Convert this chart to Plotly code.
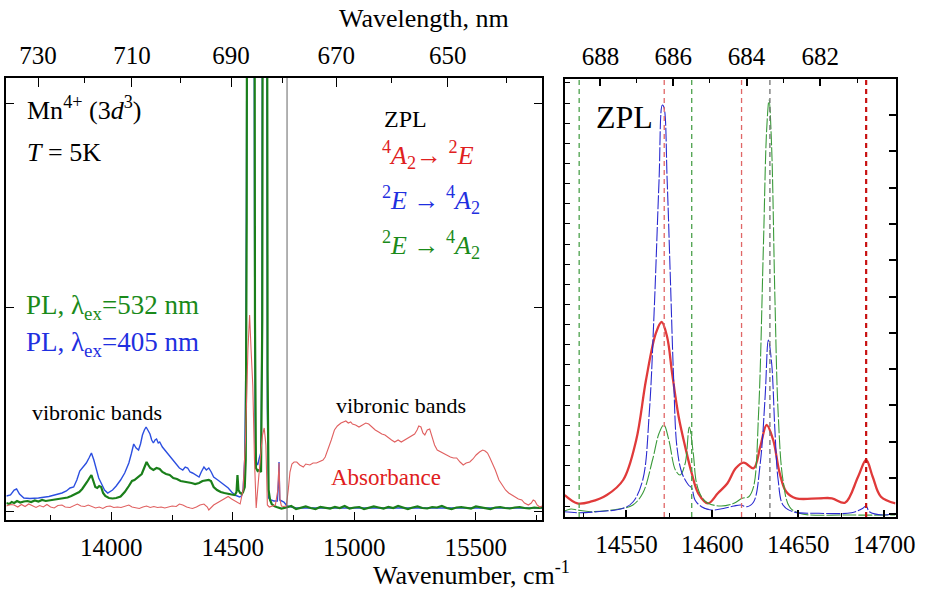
import plotly.graph_objects as go

# ---------------- DATA ----------------
# Left panel: wavenumber (cm^-1) and intensity (a.u.)
pl405_wn = [13568, 13585, 13600, 13610, 13622, 13640, 13665, 13700, 13743, 13770, 13797, 13815, 13830, 13845,
            13858, 13870, 13885, 13897, 13908, 13918, 13928, 13938, 13948, 13958, 13972, 13985, 14005, 14020,
            14038, 14055, 14072, 14082, 14092, 14102, 14112, 14120, 14128, 14136, 14143, 14150, 14159, 14166,
            14173, 14180, 14186, 14193, 14199, 14210, 14220, 14230, 14240, 14255, 14267, 14280, 14294, 14304,
            14314, 14324, 14334, 14348, 14361, 14370, 14381, 14391, 14401, 14411, 14421, 14438, 14455, 14470,
            14481, 14495, 14508, 14518, 14528, 14535, 14542, 14549, 14553, 14556, 14559, 14575, 14585, 14589,
            14592, 14596, 14602, 14609, 14616, 14620, 14623, 14633, 14640, 14642, 14647, 14656, 14669, 14683,
            14688, 14690, 14693, 14710, 14723, 14760, 14820, 14900, 15000, 15100, 15200, 15300, 15400, 15500,
            15600, 15700, 15773]
pl405_i = [24, 25, 30, 31, 26, 22, 21.5, 22, 23.5, 25, 27, 29, 32, 33,
           40, 49, 53, 57, 62, 67, 60, 51, 42, 37, 30, 27, 30, 34,
           40, 47, 57, 66, 76, 72, 70, 76, 85, 90, 93, 90, 86, 80,
           77, 80, 81, 77, 78, 73, 70, 67, 65, 60, 57, 52, 50, 53,
           52, 48, 47, 45, 43, 48, 53, 50, 52, 48, 43, 40, 37, 34,
           32, 28, 25, 24, 23, 24, 30, 62, 145, 345, 900, 2000, 900, 300,
           78, 58, 55, 62, 68, 200, 900, 1800, 600, 112, 22, 20, 19, 19,
           40, 58, 20, 18, 14, 12, 12, 12, 12, 12, 12, 12, 12, 12,
           12, 12, 12]

pl532_wn = [13568, 13580, 13590, 13600, 13612, 13625, 13640, 13655, 13670, 13685, 13700, 13715, 13730, 13743,
            13760, 13775, 13790, 13805, 13820, 13835, 13850, 13868, 13880, 13890, 13900, 13910, 13918, 13926,
            13934, 13942, 13950, 13958, 13966, 13975, 13990, 14005, 14020, 14038, 14055, 14072, 14085, 14095,
            14110, 14125, 14135, 14145, 14152, 14160, 14173, 14186, 14199, 14210, 14225, 14240, 14255, 14270,
            14285, 14300, 14315, 14330, 14345, 14361, 14375, 14390, 14401, 14410, 14421, 14435, 14450, 14465,
            14480, 14495, 14508, 14515, 14519, 14523, 14530, 14537, 14542, 14549, 14553, 14557, 14560, 14575,
            14588, 14591, 14595, 14602, 14609, 14616, 14621, 14625, 14633, 14640, 14643, 14647, 14653, 14660,
            14670, 14680, 14700, 14720, 14740, 14760, 14780, 14800, 14820, 14840, 14860, 14880, 14900, 14920,
            14940, 14960, 14980, 15000, 15020, 15040, 15060, 15080, 15100, 15120, 15140, 15160, 15180, 15200,
            15220, 15240, 15260, 15280, 15300, 15320, 15340, 15360, 15380, 15400, 15420, 15440, 15460, 15480,
            15500, 15520, 15540, 15560, 15580, 15600, 15620, 15640, 15660, 15680, 15700, 15720, 15740, 15760,
            15773]
pl532_i = [17, 16, 18, 17, 19, 17.5, 18.5, 19, 18, 19.5, 18.5, 20, 19, 19.5,
           20, 20.5, 21, 22, 22.5, 24, 26, 28, 31, 34, 38, 42, 45, 39,
           33, 32, 34, 33, 27, 24, 22, 21.5, 22, 23.5, 28, 34, 39, 40,
           43, 46, 52, 58, 55, 52, 50, 52, 51, 48, 46, 45, 42, 41,
           39, 38.5, 37.5, 37, 36, 37, 39, 40, 40, 39, 33, 30, 28, 27,
           26, 25.5, 25, 28, 45, 30, 27, 26, 28, 33, 60, 300, 900, 1900,
           900, 200, 52, 49, 50, 48, 200, 900, 2400, 800, 150, 30, 20, 16,
           14, 13, 11.5, 12.5, 14, 11, 12, 13.5, 12, 11, 13, 12.5, 11.5, 13,
           12, 14, 11.5, 12.5, 13, 11, 12, 13.5, 12.5, 11.5, 13, 12, 14, 12.5,
           11, 12.5, 13.5, 12, 11.5, 13, 12.5, 14, 12, 11, 12.5, 13, 12, 11.5,
           13.5, 12.5, 12, 11, 12.5, 13, 12, 11.5, 12.5, 13, 12, 11.5, 12.5, 12,
           12.5]

abs_wn = [13568, 13585, 13600, 13615, 13630, 13645, 13660, 13675, 13690, 13705, 13720, 13735, 13750, 13765,
          13780, 13797, 13810, 13830, 13845, 13860, 13875, 13890, 13905, 13918, 13935, 13950, 13965, 13980,
          13995, 14010, 14025, 14040, 14055, 14072, 14085, 14100, 14115, 14130, 14145, 14160, 14175, 14190,
          14205, 14220, 14235, 14250, 14267, 14280, 14294, 14310, 14325, 14334, 14350, 14365, 14381, 14395,
          14401, 14410, 14421, 14435, 14455, 14470, 14481, 14495, 14508, 14520, 14530, 14542, 14552, 14562,
          14569, 14575, 14582, 14589, 14596, 14602, 14609, 14616, 14622, 14629, 14636, 14642, 14650, 14660,
          14675, 14685, 14690, 14694, 14700, 14710, 14720, 14728, 14735, 14743, 14752, 14763, 14775, 14790,
          14800, 14817, 14830, 14844, 14858, 14871, 14880, 14891, 14905, 14918, 14930, 14945, 14955, 14965,
          14975, 14985, 14992, 15005, 15019, 15035, 15047, 15059, 15072, 15086, 15100, 15113, 15126, 15140,
          15153, 15166, 15180, 15193, 15206, 15220, 15235, 15248, 15258, 15265, 15274, 15282, 15290, 15300,
          15310, 15320, 15330, 15341, 15355, 15368, 15381, 15395, 15408, 15421, 15435, 15448, 15460, 15475,
          15488, 15501, 15515, 15528, 15538, 15548, 15558, 15568, 15580, 15595, 15608, 15622, 15635, 15649,
          15662, 15675, 15689, 15700, 15716, 15728, 15736, 15743, 15752, 15763, 15773]
abs_i = [14, 15.5, 15, 13, 15.5, 13.5, 16, 14, 12.5, 14.5, 13, 15.5, 13, 12,
         14.5, 15, 13, 12.5, 14, 16, 14, 13.5, 15, 14, 12, 13, 11.5, 13.5,
         14, 12.5, 13, 12.5, 14, 15, 13, 12, 11.5, 13, 14, 12.5, 13.5, 12.5,
         13, 12, 13, 14, 13.5, 16, 15, 13, 12, 11.5, 13, 15, 16, 13,
         10, 12, 15, 17, 20, 22, 23.5, 21, 19, 17, 16, 30, 80, 170,
         205, 170, 135, 60, 12, 30, 55, 70, 85, 92, 75, 15, 13, 14,
         15, 30, 57, 20, 14, 13.5, 14, 30, 48, 56, 58, 58, 55, 53,
         56, 55, 57, 57, 59, 60, 63, 70, 80, 90, 94, 97, 98, 99,
         97, 98, 96, 95, 93, 95, 97, 96, 93, 90, 88, 86, 85, 82,
         80, 78, 80, 78, 80, 82, 84, 86, 90, 94, 93, 87, 85, 90,
         91, 84, 75, 70, 68, 66, 65, 63, 62, 62, 58, 55, 57, 58,
         61, 65, 68, 70, 69, 67, 62, 57, 50, 40, 35, 30, 27, 25,
         23, 21, 20, 17, 15, 17, 20, 19, 15, 13, 14]

# Right panel (ZPL region)
zpl405_wn = [14513.0, 14521.5, 14532.9, 14548.1, 14553.8, 14559.5, 14563.3, 14566.1, 14569.0, 14570.9, 14571.8,
             14573.7, 14575.6, 14577.5, 14579.4, 14582.3, 14586.1, 14588.0, 14589.9, 14593.7, 14599.4, 14607.0,
             14612.6, 14616.5, 14620.2, 14624.0, 14627.9, 14630.7, 14632.6, 14634.5, 14636.4, 14638.3, 14641.1,
             14646.8, 14662.0, 14681.0, 14687.6, 14689.5, 14691.4, 14700.0, 14706.6]
zpl405_i = [5.3, 4.3, 5.3, 8.7, 15, 37, 104, 204, 337, 412, 410,
            337, 237, 137, 70, 44, 32, 29, 17, 10.3, 7, 8.7,
            11, 12, 10.3, 15, 54, 120, 177, 154, 87, 37, 12,
            5.3, 3.7, 4.3, 8.7, 11, 5.3, 2, 3.7]

zpl532_wn = [14513.0, 14517.7, 14521.5, 14529.1, 14548.1, 14553.8, 14559.5, 14565.2, 14569.0, 14571.8, 14574.7,
             14578.5, 14581.3, 14584.2, 14586.6, 14588.9, 14590.8, 14593.7, 14597.5, 14605.1, 14612.6, 14617.4,
             14621.2, 14624.0, 14626.9, 14629.7, 14631.6, 14633.0, 14634.5, 14636.4, 14638.3, 14641.1, 14644.9,
             14650.6, 14681.0, 14706.6]
zpl532_i = [5.3, 8, 7, 5.3, 8.7, 12, 23.7, 57, 83.7, 92, 77,
            47, 42, 53.7, 90, 63.7, 33.7, 20.3, 13.7, 11, 13.7, 18.7,
            20.3, 30.3, 103.7, 270, 387, 417, 370, 220, 103.7, 37, 10.3,
            3.7, 2, 2]

zplabs_wn = [14514.1, 14521.5, 14529.1, 14538.6, 14548.1, 14555.7, 14561.4, 14567.1, 14570.5, 14573.7, 14576.6,
             14580.4, 14584.2, 14588.0, 14591.8, 14597.5, 14603.2, 14608.8, 14613.6, 14618.3, 14624.0, 14627.9,
             14631.6, 14635.4, 14639.2, 14643.0, 14648.7, 14662.0, 14669.6, 14677.2, 14684.8, 14689.5, 14693.3,
             14698.1, 14706.6]
zplabs_i = [22, 13.7, 15.3, 22, 37, 77, 137, 183.7, 195, 180, 143.7,
            100.3, 70.3, 43.7, 23.7, 13.7, 23.7, 33.7, 48.7, 54.3, 48.7, 70.3,
            92, 77, 43.7, 25.3, 18.7, 18.7, 18.7, 14.3, 40.3, 57, 40.3,
            20.3, 13.7]

# ZPL line positions (cm^-1)
zpl_green_lines = [14522.5, 14588.0]
zpl_red_lines = [14572.0, 14617.0]
zpl_gray_lines = [14633.5]
zpl_darkred_lines = [14689.5]
left_marker_line = [14723]

# Axis ticks
left_wn_ticks = [14000, 14500, 15000, 15500]
left_nm_major = [730, 710, 690, 670, 650]
left_nm_minor = [720, 700, 680, 660, 640]
right_wn_ticks = [14550, 14600, 14650, 14700]
right_nm_major = [688, 686, 684, 682]
right_nm_minor = [689, 687, 685, 683, 681]

LEFT_RANGE = [13568, 15773]
RIGHT_RANGE = [14514.1, 14706.6]
LEFT_Y = [0, 442]
RIGHT_Y = [0, 438]

# ---------------- FIGURE ----------------
W, H = 940, 589
FONT = "Liberation Serif"


def px(x):
    return x / W


def py(y):
    return 1 - y / H


fig = go.Figure()

# Left panel traces
fig.add_trace(go.Scatter(x=pl405_wn, y=pl405_i, mode="lines", line=dict(color="#2c4fe0", width=1.4),
                         xaxis="x", yaxis="y", hoverinfo="skip"))
fig.add_trace(go.Scatter(x=pl532_wn, y=pl532_i, mode="lines", line=dict(color="#1a7f1a", width=2.2),
                         xaxis="x", yaxis="y", hoverinfo="skip"))
fig.add_trace(go.Scatter(x=abs_wn, y=abs_i, mode="lines", line=dict(color="#e06060", width=1.1),
                         xaxis="x", yaxis="y", hoverinfo="skip"))

# Right panel traces
fig.add_trace(go.Scatter(x=zplabs_wn, y=zplabs_i, mode="lines", line=dict(color="#e03a3a", width=2.3, shape="spline"),
                         xaxis="x2", yaxis="y2", hoverinfo="skip"))
fig.add_trace(go.Scatter(x=zpl532_wn, y=zpl532_i, mode="lines",
                         line=dict(color="#3a9a3a", width=1.1, shape="spline", dash="14px,2px"),
                         xaxis="x2", yaxis="y2", hoverinfo="skip"))
fig.add_trace(go.Scatter(x=zpl405_wn, y=zpl405_i, mode="lines",
                         line=dict(color="#2a2ad0", width=1.1, shape="spline", dash="14px,2px"),
                         xaxis="x2", yaxis="y2", hoverinfo="skip"))

# invisible anchors for secondary axes
fig.add_trace(go.Scatter(x=[14600], y=[10], mode="markers", marker=dict(opacity=0), xaxis="x3", yaxis="y",
                         hoverinfo="skip"))
fig.add_trace(go.Scatter(x=[14600], y=[10], mode="markers", marker=dict(opacity=0), xaxis="x4", yaxis="y2",
                         hoverinfo="skip"))
fig.add_trace(go.Scatter(x=[14600], y=[10], mode="markers", marker=dict(opacity=0), xaxis="x2", yaxis="y4",
                         hoverinfo="skip"))

tickfont = dict(family=FONT, size=25, color="black")

left_dom_x = [px(6.5), px(554)]
left_dom_y = [py(520), py(78)]
right_dom_x = [px(577), px(915)]
right_dom_y = [py(517), py(79)]

fig.update_layout(
    width=W, height=H, margin=dict(l=0, r=0, t=0, b=0),
    paper_bgcolor="white", plot_bgcolor="white", showlegend=False,
    font=dict(family=FONT, size=25, color="black"),
    xaxis=dict(domain=left_dom_x, range=LEFT_RANGE, anchor="y", tickmode="array", tickvals=left_wn_ticks,
               ticktext=[str(v) for v in left_wn_ticks],
               ticks="inside", ticklen=8, tickwidth=1.3, tickcolor="black", tickfont=tickfont,
               ticklabelstandoff=4,
               minor=dict(dtick=250, tick0=13750, ticks="inside", ticklen=5, tickwidth=1.2, tickcolor="black"),
               showline=True, linecolor="black", linewidth=1.6, mirror=True, showgrid=False, zeroline=False),
    yaxis=dict(domain=left_dom_y, range=LEFT_Y, anchor="x", showticklabels=False, tickmode="linear",
               tick0=9, dtick=204, ticks="inside", ticklen=8, tickwidth=1.3, tickcolor="black",
               showline=True, linecolor="black", linewidth=1.6, mirror="ticks", showgrid=False, zeroline=False),
    xaxis3=dict(overlaying="x", side="top", anchor="y", range=LEFT_RANGE, tickmode="array",
                tickvals=[1e7 / v for v in left_nm_major], ticktext=[str(v) for v in left_nm_major],
                ticks="inside", ticklen=9, tickwidth=1.3, tickcolor="black", tickfont=tickfont,
                ticklabelstandoff=8,
                minor=dict(tickmode="array", tickvals=[1e7 / v for v in left_nm_minor], ticks="inside",
                           ticklen=5, tickwidth=1.2, tickcolor="black"),
                showline=False, showgrid=False, zeroline=False),
    xaxis2=dict(domain=right_dom_x, range=RIGHT_RANGE, anchor="y2", tickmode="array", tickvals=right_wn_ticks,
                ticktext=[str(v) for v in right_wn_ticks],
                ticks="inside", ticklen=7, tickwidth=1.5, tickcolor="black", tickfont=tickfont,
                ticklabelstandoff=4,
                minor=dict(dtick=25, tick0=14525, ticks="inside", ticklen=4, tickwidth=1.3, tickcolor="black"),
                showline=True, linecolor="black", linewidth=2.2, mirror=True, showgrid=False, zeroline=False),
    yaxis2=dict(domain=right_dom_y, range=RIGHT_Y, anchor="x2", showticklabels=False, tickmode="linear",
                tick0=11, dtick=20.15, ticks="inside", ticklen=5, tickwidth=1.3, tickcolor="black",
                showline=True, linecolor="black", linewidth=2.2, mirror=True, showgrid=False, zeroline=False),
    yaxis4=dict(overlaying="y2", side="right", anchor="x2", range=RIGHT_Y, showticklabels=False,
                tickmode="linear", tick0=39, dtick=36.3, ticks="inside", ticklen=7, tickwidth=1.5,
                tickcolor="black", showline=False, showgrid=False, zeroline=False),
    xaxis4=dict(overlaying="x2", side="top", anchor="y2", range=RIGHT_RANGE, tickmode="array",
                tickvals=[1e7 / v for v in right_nm_major], ticktext=[str(v) for v in right_nm_major],
                ticks="inside", ticklen=7, tickwidth=1.5, tickcolor="black", tickfont=tickfont,
                ticklabelstandoff=8,
                minor=dict(tickmode="array", tickvals=[1e7 / v for v in right_nm_minor], ticks="inside",
                           ticklen=4, tickwidth=1.3, tickcolor="black"),
                showline=False, showgrid=False, zeroline=False),
)

shapes = []
for v in left_marker_line:
    shapes.append(dict(type="line", xref="x", yref="y domain", x0=v, x1=v, y0=0, y1=1,
                       line=dict(color="#666666", width=1)))
for v in zpl_green_lines:
    shapes.append(dict(type="line", xref="x2", yref="y2 domain", x0=v, x1=v, y0=0, y1=1,
                       line=dict(color="#4aa04a", width=1.3, dash="5px,4px")))
for v in zpl_red_lines:
    shapes.append(dict(type="line", xref="x2", yref="y2 domain", x0=v, x1=v, y0=0, y1=1,
                       line=dict(color="#e06666", width=1.3, dash="5px,4px")))
for v in zpl_gray_lines:
    shapes.append(dict(type="line", xref="x2", yref="y2 domain", x0=v, x1=v, y0=0, y1=1,
                       line=dict(color="#707070", width=1.3, dash="5px,4px")))
for v in zpl_darkred_lines:
    shapes.append(dict(type="line", xref="x2", yref="y2 domain", x0=v, x1=v, y0=0, y1=1,
                       line=dict(color="#c81010", width=2.2, dash="5px,4px")))
fig.update_layout(shapes=shapes)

GREEN_T = "#1a8a1a"
BLUE_T = "#1f2fe0"
RED_T = "#e02020"


def ann(text, x, y, size=24, color="black", xanchor="left"):
    fig.add_annotation(text=text, x=px(x), y=py(y), xref="paper", yref="paper", showarrow=False,
                       xanchor=xanchor, yanchor="middle", font=dict(family=FONT, size=size, color=color))


ann("Wavelength, nm", 433, 19, size=26, xanchor="center")
ann("Wavenumber, cm<sup>-1</sup>", 482, 573, size=26, xanchor="center")
ann("Mn<sup>4+</sup> (3<i>d</i><sup>3</sup>)", 26, 109, size=26)
ann("<i>T</i> = 5K", 26, 152, size=26)
ann("ZPL", 390, 119, size=24)
ann("<sup>4</sup><i>A</i><sub>2</sub>\u2192 <sup>2</sup><i>E</i>", 388, 155, size=26, color=RED_T)
ann("<sup>2</sup><i>E</i> \u2192 <sup>4</sup><i>A</i><sub>2</sub>", 388, 200, size=26, color=BLUE_T)
ann("<sup>2</sup><i>E</i> \u2192 <sup>4</sup><i>A</i><sub>2</sub>", 388, 245, size=26, color=GREEN_T)
ann("PL, \u03bb<sub>ex</sub>=532 nm", 25, 307, size=27, color=GREEN_T)
ann("PL, \u03bb<sub>ex</sub>=405 nm", 25, 344, size=27, color=BLUE_T)
ann("vibronic bands", 31, 412, size=22)
ann("vibronic bands", 341, 405, size=22)
ann("Absorbance", 336, 477, size=23, color=RED_T)
ann("ZPL", 607, 117, size=32)

fig.write_html("out.html")
